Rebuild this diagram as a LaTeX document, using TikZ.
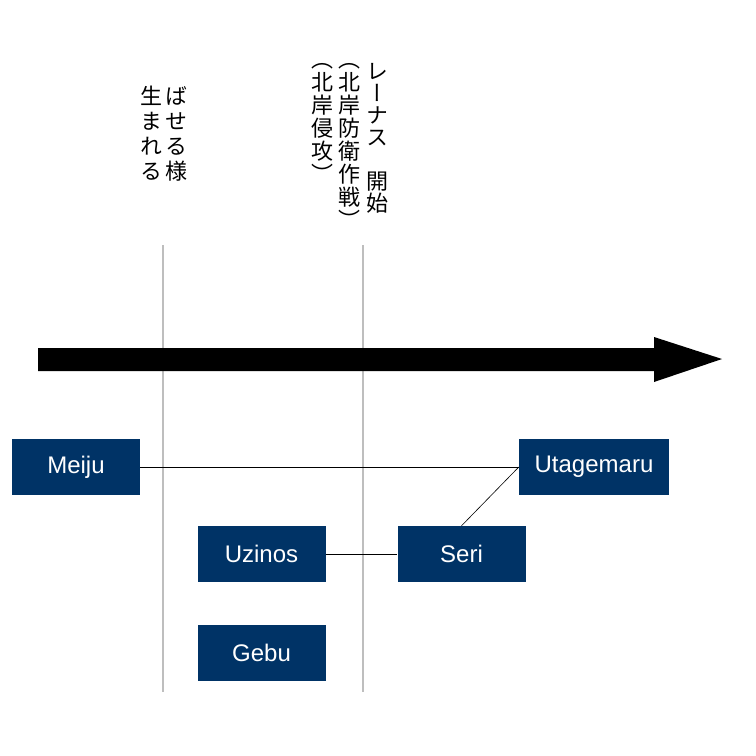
\documentclass[tikz,border=0pt]{standalone}
\usepackage{fontspec}
\setmainfont{Liberation Sans}
\newfontfamily\cjkv[RawFeature=+vert]{Noto Sans CJK JP}
\definecolor{boxblue}{RGB}{0,51,102}
\definecolor{guide}{RGB}{190,190,190}
\begin{document}
\begin{tikzpicture}[x=1pt,y=-1pt,
  evbox/.style={draw=none,fill=boxblue,text=white,minimum width=128pt,minimum height=56pt,inner sep=0pt,font=\fontsize{24}{28}\selectfont},
  vcol/.style={anchor=north,align=center,inner sep=0pt,font=\cjkv\fontsize{22}{22}\selectfont},
  vcolmid/.style={vcol,font=\cjkv\fontsize{22}{23}\selectfont},
  vcolwide/.style={vcol,font=\cjkv\fontsize{22}{25}\selectfont},
  guideline/.style={draw=guide,line width=1.2pt},
  link/.style={draw=black,line width=0.6pt}]
\useasboundingbox (0,0) rectangle (756,756);
% guide lines
\coordinate (g1t) at (163,245); \coordinate (g1b) at (163,692);
\coordinate (g2t) at (363,245); \coordinate (g2b) at (363,692);
\draw[guideline] (g1t) -- (g1b);
\draw[guideline] (g2t) -- (g2b);
% time arrow
\fill[black] (38,348) -- (654,348) -- (654,337) -- (722,359) -- (654,382) -- (654,371) -- (38,371) -- cycle;
% vertical labels
\node[vcolwide] (a1) at (176,86) {ば\\せ\\る\\様};
\node[vcolwide] (a2) at (151,86) {生\\ま\\れ\\る};
\node[vcol] (b1) at (377,63) {レ\\ー\\ナ\\ス\\　\\開\\始};
\node[vcolmid] (b2) at (349,63) {（\\北\\岸\\防\\衛\\作\\戦\\）};
\node[vcolmid] (b3) at (322,63) {（\\北\\岸\\侵\\攻\\）};
% boxes
\node[evbox] (meiju) at (76,467) {Meiju};
\node[evbox,minimum width=150pt] (utage) at (594,467) {Utagemaru};
\node[evbox] (uzinos) at (261.5,554) {Uzinos};
\node[evbox] (seri) at (461.5,554) {Seri};
\node[evbox] (gebu) at (261.5,653) {Gebu};
% links
\draw[link] (meiju.east) -- (utage.west);
\draw[link] (uzinos.east) -- (seri.west);
\draw[link] (seri.north) -- (utage.west);
\end{tikzpicture}
\end{document}
